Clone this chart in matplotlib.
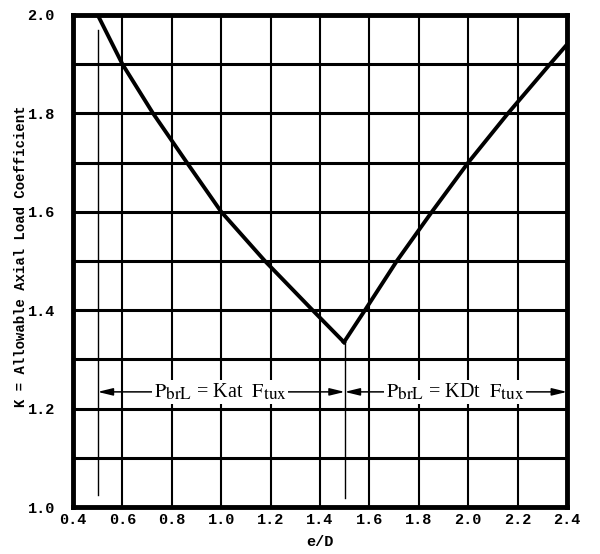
import matplotlib as mpl
import matplotlib.pyplot as plt
import matplotlib._mathtext as mathtext_impl

mpl.use('Agg')

# curve: left branch (e/D < 1.5) and right branch
ed_left = [0.5, 0.6, 0.724, 0.861, 1.0, 1.177, 1.37, 1.497]
k_left = [2.0, 1.9, 1.8, 1.7, 1.6, 1.5, 1.4, 1.335]
ed_right = [1.497, 1.582, 1.711, 1.853, 2.0, 2.161, 2.331, 2.4]
k_right = [1.335, 1.4, 1.5, 1.6, 1.7, 1.8, 1.9, 1.94]

xticks = [0.4, 0.6, 0.8, 1.0, 1.2, 1.4, 1.6, 1.8, 2.0, 2.2, 2.4]
yticks = [1.0, 1.2, 1.4, 1.6, 1.8, 2.0]
yminor = [1.1, 1.3, 1.5, 1.7, 1.9]

arrow_y = 1.234
label_left = r'$\mathrm{P_{brL}}$ = Kat  $\mathrm{F_{tux}}$'
label_right = r'$\mathrm{P_{brL}}$ = KDt  $\mathrm{F_{tux}}$'

# subscripts in the original are only a little smaller than the main text
mathtext_impl.SHRINK_FACTOR = 0.85
plt.rcParams['mathtext.fontset'] = 'stix'
mono = 'Liberation Mono'

fig = plt.figure(figsize=(6, 5.54), dpi=100)
ax = fig.add_axes([0.1217, 0.0848, 0.8233, 0.8882])

ax.set_xlim(0.4, 2.4)
ax.set_ylim(1.0, 2.0)

# grid
for y in yticks[1:-1] + yminor:
    ax.axhline(y, color='black', lw=2.2, zorder=1)
for x in xticks[1:-1]:
    ax.axvline(x, color='black', lw=1.5, zorder=1)

# boundary lines at e/D = 0.5 and 1.5
ax.plot([0.5, 0.5], [1.024, 1.97], color='black', lw=1.0, zorder=1)
ax.plot([1.5, 1.5], [1.018, 1.335], color='black', lw=1.0, zorder=1)

ax.plot(ed_left, k_left, color='black', lw=2.8, solid_joinstyle='miter', zorder=3)
ax.plot(ed_right, k_right, color='black', lw=2.8, solid_joinstyle='miter', zorder=3)

# range arrows
aprops = dict(arrowstyle='<|-|>,head_length=0.9,head_width=0.22', color='black',
              lw=1.1, shrinkA=0, shrinkB=0)
ax.annotate('', xy=(0.5, arrow_y), xytext=(1.5, arrow_y), arrowprops=aprops, zorder=4)
ax.annotate('', xy=(1.5, arrow_y), xytext=(2.4, arrow_y), arrowprops=aprops, zorder=4)
tb = dict(facecolor='white', edgecolor='none', pad=1.5)
ax.text(0.995, arrow_y, label_left, ha='center', va='center', fontsize=14.5,
        family='Liberation Serif', bbox=tb, zorder=5)
ax.text(1.947, arrow_y, label_right, ha='center', va='center', fontsize=14.5,
        family='Liberation Serif', bbox=tb, zorder=5)

ax.set_xticks(xticks)
ax.set_xticklabels(['%.1f' % v for v in xticks], family=mono, fontweight='bold', fontsize=11)
ax.set_yticks(yticks)
ax.set_yticklabels(['%.1f' % v for v in yticks], family=mono, fontweight='bold', fontsize=11)
ax.tick_params(length=0, pad=4)
ax.tick_params(axis='y', pad=13)

for s in ax.spines.values():
    s.set_linewidth(3.5)
    s.set_zorder(6)

ax.set_xlabel('e/D', family=mono, fontweight='bold', fontsize=11, labelpad=6)
ax.set_ylabel('K = Allowable Axial Load Coefficient', family=mono, fontweight='bold',
              fontsize=10)
ax.yaxis.set_label_coords(-0.092, 0.51)

fig.savefig('out.png', dpi=100)
